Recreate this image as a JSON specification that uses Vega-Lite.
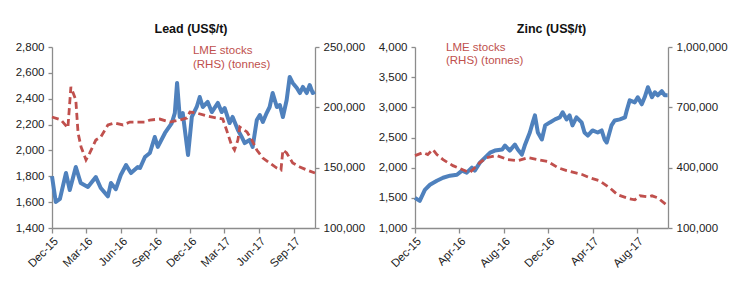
{
  "$schema": "https://vega.github.io/schema/vega-lite/v6.json",
  "background": "white",
  "padding": {"left": 12, "top": 22, "right": 16, "bottom": 5},
  "spacing": 5,
  "config": {
    "font": "Liberation Sans",
    "view": {"stroke": null},
    "axis": {
      "domainColor": "#8c8c8c",
      "tickColor": "#8c8c8c",
      "domainWidth": 1.3,
      "tickWidth": 1.3,
      "grid": false,
      "labelFontSize": 11.5,
      "labelColor": "#222222",
      "tickSize": 4,
      "labelPadding": 4
    }
  },
  "datasets": {
    "lead_price": [
      {"date": "2015-12-01", "value": 1800},
      {"date": "2015-12-11", "value": 1601},
      {"date": "2015-12-22", "value": 1625},
      {"date": "2016-01-07", "value": 1825},
      {"date": "2016-01-17", "value": 1694},
      {"date": "2016-02-02", "value": 1872},
      {"date": "2016-02-15", "value": 1748},
      {"date": "2016-03-05", "value": 1717},
      {"date": "2016-03-26", "value": 1794},
      {"date": "2016-04-08", "value": 1709},
      {"date": "2016-04-27", "value": 1645},
      {"date": "2016-05-05", "value": 1748},
      {"date": "2016-05-18", "value": 1700},
      {"date": "2016-05-31", "value": 1810},
      {"date": "2016-06-14", "value": 1887},
      {"date": "2016-06-27", "value": 1825},
      {"date": "2016-07-15", "value": 1872},
      {"date": "2016-07-21", "value": 1864},
      {"date": "2016-08-03", "value": 1949},
      {"date": "2016-08-16", "value": 1980},
      {"date": "2016-08-29", "value": 2104},
      {"date": "2016-09-06", "value": 2027},
      {"date": "2016-09-25", "value": 2135},
      {"date": "2016-10-13", "value": 2212},
      {"date": "2016-10-21", "value": 2289},
      {"date": "2016-10-27", "value": 2522},
      {"date": "2016-11-03", "value": 2259},
      {"date": "2016-11-11", "value": 2289},
      {"date": "2016-11-25", "value": 1965},
      {"date": "2016-12-05", "value": 2259},
      {"date": "2016-12-18", "value": 2336},
      {"date": "2016-12-26", "value": 2413},
      {"date": "2017-01-03", "value": 2336},
      {"date": "2017-01-16", "value": 2375},
      {"date": "2017-01-27", "value": 2297},
      {"date": "2017-02-12", "value": 2367},
      {"date": "2017-02-22", "value": 2297},
      {"date": "2017-03-02", "value": 2328},
      {"date": "2017-03-15", "value": 2212},
      {"date": "2017-03-23", "value": 2259},
      {"date": "2017-04-06", "value": 2158},
      {"date": "2017-04-16", "value": 2104},
      {"date": "2017-04-24", "value": 2057},
      {"date": "2017-05-07", "value": 2081},
      {"date": "2017-05-15", "value": 2027},
      {"date": "2017-05-26", "value": 2235},
      {"date": "2017-06-03", "value": 2274},
      {"date": "2017-06-11", "value": 2220},
      {"date": "2017-06-21", "value": 2289},
      {"date": "2017-06-29", "value": 2336},
      {"date": "2017-07-07", "value": 2444},
      {"date": "2017-07-18", "value": 2336},
      {"date": "2017-07-26", "value": 2351},
      {"date": "2017-08-03", "value": 2259},
      {"date": "2017-08-13", "value": 2390},
      {"date": "2017-08-21", "value": 2568},
      {"date": "2017-08-29", "value": 2522},
      {"date": "2017-09-09", "value": 2483},
      {"date": "2017-09-17", "value": 2444},
      {"date": "2017-09-25", "value": 2491},
      {"date": "2017-10-05", "value": 2444},
      {"date": "2017-10-13", "value": 2506},
      {"date": "2017-10-21", "value": 2444},
      {"date": "2017-10-27", "value": 2452}
    ],
    "lead_stocks": [
      {"date": "2015-12-01", "value": 192000},
      {"date": "2015-12-25", "value": 189500},
      {"date": "2016-01-12", "value": 182900},
      {"date": "2016-01-20", "value": 216900},
      {"date": "2016-02-02", "value": 206100},
      {"date": "2016-02-08", "value": 178700},
      {"date": "2016-02-16", "value": 167100},
      {"date": "2016-02-29", "value": 156400},
      {"date": "2016-03-10", "value": 162200},
      {"date": "2016-03-26", "value": 172900},
      {"date": "2016-04-08", "value": 175400},
      {"date": "2016-04-27", "value": 185400},
      {"date": "2016-05-15", "value": 187000},
      {"date": "2016-06-06", "value": 185400},
      {"date": "2016-06-24", "value": 187800},
      {"date": "2016-08-03", "value": 187800},
      {"date": "2016-08-16", "value": 189500},
      {"date": "2016-09-11", "value": 190300},
      {"date": "2016-10-08", "value": 187800},
      {"date": "2016-11-03", "value": 189500},
      {"date": "2016-11-22", "value": 191200},
      {"date": "2016-11-30", "value": 196100},
      {"date": "2016-12-18", "value": 195300},
      {"date": "2017-01-14", "value": 192800},
      {"date": "2017-02-09", "value": 191200},
      {"date": "2017-02-25", "value": 190300},
      {"date": "2017-03-07", "value": 181200},
      {"date": "2017-03-20", "value": 168800},
      {"date": "2017-03-28", "value": 164600},
      {"date": "2017-04-06", "value": 172900},
      {"date": "2017-04-11", "value": 183700},
      {"date": "2017-04-30", "value": 179600},
      {"date": "2017-05-13", "value": 172900},
      {"date": "2017-05-26", "value": 164600},
      {"date": "2017-06-11", "value": 158000},
      {"date": "2017-06-29", "value": 153900},
      {"date": "2017-07-18", "value": 149700},
      {"date": "2017-07-29", "value": 148100},
      {"date": "2017-08-03", "value": 164600},
      {"date": "2017-08-13", "value": 162200},
      {"date": "2017-08-29", "value": 153900},
      {"date": "2017-09-17", "value": 150600},
      {"date": "2017-10-05", "value": 148100},
      {"date": "2017-10-27", "value": 145600}
    ],
    "lead_note": [
      {"date": "2016-12-08", "value": 2769, "label": "LME stocks"},
      {"date": "2016-12-08", "value": 2661, "label": "(RHS) (tonnes)"}
    ],
    "zinc_price": [
      {"date": "2015-12-01", "value": 1500},
      {"date": "2015-12-14", "value": 1450},
      {"date": "2015-12-28", "value": 1633},
      {"date": "2016-01-11", "value": 1717},
      {"date": "2016-01-30", "value": 1783},
      {"date": "2016-02-16", "value": 1833},
      {"date": "2016-03-06", "value": 1867},
      {"date": "2016-03-25", "value": 1883},
      {"date": "2016-04-08", "value": 1950},
      {"date": "2016-04-21", "value": 1917},
      {"date": "2016-05-05", "value": 2000},
      {"date": "2016-05-13", "value": 1950},
      {"date": "2016-05-27", "value": 2083},
      {"date": "2016-06-10", "value": 2167},
      {"date": "2016-06-24", "value": 2250},
      {"date": "2016-07-07", "value": 2283},
      {"date": "2016-07-27", "value": 2300},
      {"date": "2016-08-04", "value": 2367},
      {"date": "2016-08-17", "value": 2283},
      {"date": "2016-08-31", "value": 2383},
      {"date": "2016-09-08", "value": 2300},
      {"date": "2016-09-19", "value": 2217},
      {"date": "2016-09-27", "value": 2367},
      {"date": "2016-10-11", "value": 2583},
      {"date": "2016-10-19", "value": 2750},
      {"date": "2016-10-25", "value": 2867},
      {"date": "2016-11-02", "value": 2583},
      {"date": "2016-11-13", "value": 2467},
      {"date": "2016-11-22", "value": 2700},
      {"date": "2016-12-05", "value": 2750},
      {"date": "2016-12-19", "value": 2800},
      {"date": "2017-01-01", "value": 2833},
      {"date": "2017-01-09", "value": 2917},
      {"date": "2017-01-20", "value": 2800},
      {"date": "2017-01-28", "value": 2867},
      {"date": "2017-02-05", "value": 2700},
      {"date": "2017-02-16", "value": 2833},
      {"date": "2017-03-02", "value": 2750},
      {"date": "2017-03-10", "value": 2583},
      {"date": "2017-03-19", "value": 2533},
      {"date": "2017-04-01", "value": 2617},
      {"date": "2017-04-15", "value": 2583},
      {"date": "2017-04-26", "value": 2617},
      {"date": "2017-05-04", "value": 2467},
      {"date": "2017-05-10", "value": 2417},
      {"date": "2017-05-23", "value": 2700},
      {"date": "2017-06-01", "value": 2783},
      {"date": "2017-06-15", "value": 2800},
      {"date": "2017-06-29", "value": 2833},
      {"date": "2017-07-04", "value": 2950},
      {"date": "2017-07-12", "value": 3117},
      {"date": "2017-07-26", "value": 3083},
      {"date": "2017-08-03", "value": 3167},
      {"date": "2017-08-14", "value": 3050},
      {"date": "2017-08-22", "value": 3167},
      {"date": "2017-08-31", "value": 3333},
      {"date": "2017-09-11", "value": 3167},
      {"date": "2017-09-19", "value": 3250},
      {"date": "2017-09-27", "value": 3200},
      {"date": "2017-10-08", "value": 3267},
      {"date": "2017-10-16", "value": 3200},
      {"date": "2017-10-24", "value": 3200}
    ],
    "zinc_stocks": [
      {"date": "2015-12-01", "value": 460000},
      {"date": "2015-12-23", "value": 475000},
      {"date": "2016-01-05", "value": 465000},
      {"date": "2016-01-19", "value": 490000},
      {"date": "2016-01-30", "value": 465000},
      {"date": "2016-02-16", "value": 440000},
      {"date": "2016-03-14", "value": 410000},
      {"date": "2016-04-10", "value": 390000},
      {"date": "2016-04-29", "value": 375000},
      {"date": "2016-05-13", "value": 400000},
      {"date": "2016-05-27", "value": 425000},
      {"date": "2016-06-15", "value": 450000},
      {"date": "2016-07-13", "value": 460000},
      {"date": "2016-08-12", "value": 440000},
      {"date": "2016-09-08", "value": 435000},
      {"date": "2016-10-06", "value": 450000},
      {"date": "2016-11-02", "value": 440000},
      {"date": "2016-11-30", "value": 430000},
      {"date": "2016-12-27", "value": 400000},
      {"date": "2017-01-20", "value": 385000},
      {"date": "2017-02-11", "value": 375000},
      {"date": "2017-03-05", "value": 365000},
      {"date": "2017-03-24", "value": 350000},
      {"date": "2017-04-20", "value": 335000},
      {"date": "2017-05-18", "value": 300000},
      {"date": "2017-06-09", "value": 265000},
      {"date": "2017-07-12", "value": 245000},
      {"date": "2017-07-26", "value": 240000},
      {"date": "2017-08-09", "value": 260000},
      {"date": "2017-08-31", "value": 255000},
      {"date": "2017-09-11", "value": 260000},
      {"date": "2017-09-27", "value": 250000},
      {"date": "2017-10-24", "value": 210000}
    ],
    "zinc_note": [
      {"date": "2016-02-24", "value": 3983, "label": "LME stocks"},
      {"date": "2016-02-24", "value": 3767, "label": "(RHS) (tonnes)"}
    ]
  },
  "hconcat": [
    {
      "width": 263,
      "height": 181,
      "title": {"text": "Lead (US$/t)", "fontSize": 12.5, "fontWeight": "bold", "anchor": "middle", "frame": "bounds", "offset": 6, "color": "#111111"},
      "encoding": {
        "x": {
          "field": "date", "type": "temporal",
          "scale": {"type": "utc", "domain": [{"year": 2015, "month": 12, "date": 1, "utc": true}, {"year": 2017, "month": 10, "date": 27, "utc": true}]},
          "axis": {
            "title": null, "format": "%b-%y", "labelAngle": -45, "tickSize": 5, "labelPadding": 2,
            "values": [
              {"year": 2015, "month": 12, "date": 1, "utc": true},
              {"year": 2016, "month": 3, "date": 1, "utc": true},
              {"year": 2016, "month": 6, "date": 1, "utc": true},
              {"year": 2016, "month": 9, "date": 1, "utc": true},
              {"year": 2016, "month": 12, "date": 1, "utc": true},
              {"year": 2017, "month": 3, "date": 1, "utc": true},
              {"year": 2017, "month": 6, "date": 1, "utc": true},
              {"year": 2017, "month": 9, "date": 1, "utc": true}
            ]
          }
        }
      },
      "layer": [
        {
          "data": {"name": "lead_price"},
          "mark": {"type": "line", "color": "#4f81bd", "strokeWidth": 4, "strokeJoin": "round"},
          "encoding": {
            "y": {"field": "value", "type": "quantitative",
              "scale": {"domain": [1400, 2800], "nice": false, "zero": false},
              "axis": {"orient": "left", "title": null, "format": ",.0f", "values": [1400, 1600, 1800, 2000, 2200, 2400, 2600, 2800], "minExtent": 40, "maxExtent": 40}}
          }
        },
        {
          "data": {"name": "lead_stocks"},
          "mark": {"type": "line", "color": "#c0504d", "strokeWidth": 2.8, "strokeDash": [7, 4]},
          "encoding": {
            "y": {"field": "value", "type": "quantitative",
              "scale": {"domain": [100000, 250000], "nice": false, "zero": false},
              "axis": {"orient": "right", "title": null, "format": ",.0f", "values": [100000, 150000, 200000, 250000], "minExtent": 55, "maxExtent": 55}}
          }
        },
        {
          "data": {"name": "lead_note"},
          "mark": {"type": "text", "align": "left", "baseline": "middle", "color": "#c0504d", "fontSize": 11.5},
          "encoding": {
            "y": {"field": "value", "type": "quantitative", "scale": {"domain": [1400, 2800], "nice": false, "zero": false}, "axis": null},
            "text": {"field": "label"}
          }
        }
      ],
      "resolve": {"scale": {"y": "independent"}}
    },
    {
      "width": 253,
      "height": 181,
      "title": {"text": "Zinc (US$/t)", "fontSize": 12.5, "fontWeight": "bold", "anchor": "middle", "frame": "bounds", "offset": 6, "color": "#111111"},
      "encoding": {
        "x": {
          "field": "date", "type": "temporal",
          "scale": {"type": "utc", "domain": [{"year": 2015, "month": 12, "date": 1, "utc": true}, {"year": 2017, "month": 10, "date": 25, "utc": true}]},
          "axis": {
            "title": null, "format": "%b-%y", "labelAngle": -45, "tickSize": 5, "labelPadding": 2,
            "values": [
              {"year": 2015, "month": 12, "date": 1, "utc": true},
              {"year": 2016, "month": 4, "date": 1, "utc": true},
              {"year": 2016, "month": 8, "date": 1, "utc": true},
              {"year": 2016, "month": 12, "date": 1, "utc": true},
              {"year": 2017, "month": 4, "date": 1, "utc": true},
              {"year": 2017, "month": 8, "date": 1, "utc": true}
            ]
          }
        }
      },
      "layer": [
        {
          "data": {"name": "zinc_price"},
          "mark": {"type": "line", "color": "#4f81bd", "strokeWidth": 4, "strokeJoin": "round"},
          "encoding": {
            "y": {"field": "value", "type": "quantitative",
              "scale": {"domain": [1000, 4000], "nice": false, "zero": false},
              "axis": {"orient": "left", "title": null, "format": ",.0f", "values": [1000, 1500, 2000, 2500, 3000, 3500, 4000], "minExtent": 40, "maxExtent": 40}}
          }
        },
        {
          "data": {"name": "zinc_stocks"},
          "mark": {"type": "line", "color": "#c0504d", "strokeWidth": 2.8, "strokeDash": [7, 4]},
          "encoding": {
            "y": {"field": "value", "type": "quantitative",
              "scale": {"domain": [100000, 1000000], "nice": false, "zero": false},
              "axis": {"orient": "right", "title": null, "format": ",.0f", "values": [100000, 400000, 700000, 1000000], "minExtent": 60, "maxExtent": 60}}
          }
        },
        {
          "data": {"name": "zinc_note"},
          "mark": {"type": "text", "align": "left", "baseline": "middle", "color": "#c0504d", "fontSize": 11.5},
          "encoding": {
            "y": {"field": "value", "type": "quantitative", "scale": {"domain": [1000, 4000], "nice": false, "zero": false}, "axis": null},
            "text": {"field": "label"}
          }
        }
      ],
      "resolve": {"scale": {"y": "independent"}}
    }
  ]
}
